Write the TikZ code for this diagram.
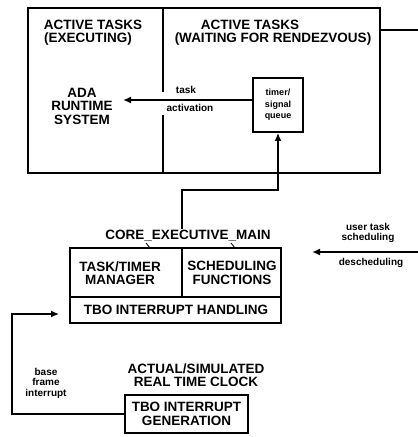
\documentclass[tikz,border=0pt]{standalone}
\usepackage{fontspec}
\setmainfont{Liberation Sans}
\usetikzlibrary{arrows.meta}
\begin{document}
\begin{tikzpicture}[x=1pt,y=-1pt,line width=1.8pt,
  arr/.style={-{Latex[length=8pt,width=7pt]}},
  box/.style={draw,inner sep=0pt},
  big/.style={font=\bfseries\fontsize{13.5}{13.5}\selectfont,align=center,inner sep=1pt},
  small/.style={font=\bfseries\fontsize{10}{10.5}\selectfont,align=center,inner sep=1pt},
  tiny/.style={font=\bfseries\fontsize{9}{11.5}\selectfont,align=center,inner sep=0pt}]
\useasboundingbox (0,0) rectangle (418,437);
% top box
\node[box,minimum width=352pt,minimum height=165pt] (top) at (204,90.5) {};
\coordinate (dT) at (163,8);
\coordinate (dG1) at (163,92);
\coordinate (dG2) at (163,115);
\coordinate (dB) at (163,173);
\draw (dT) -- (dG1);
\draw (dG2) -- (dB);
\node[big] (exe1) at (93,25) {ACTIVE TASKS};
\node[big] (exe2) at (88,39) {(EXECUTING)};
\node[big] (wait1) at (250,25) {ACTIVE TASKS};
\node[big] (wait2) at (273,39) {(WAITING FOR RENDEZVOUS)};
\node[big] (ada) at (82,106) {ADA\\RUNTIME\\SYSTEM};
\node[box,minimum width=50pt,minimum height=54pt] (q) at (278,105) {};
\node[tiny] (qt) at (q.center) {timer/\\signal\\queue};
\coordinate (adaIn) at (123,100);
\draw[arr] (q.west |- adaIn) -- (adaIn);
\node[small] (task) at (186,90) {task};
\node[small] (act) at (190,108) {activation};
\coordinate (rOut) at (418,30);
\draw (top.east |- rOut) -- (rOut);
% core box
\node[box,minimum width=211pt,minimum height=75pt] (core) at (175.5,285.5) {};
\coordinate (hL) at (70,297);
\coordinate (vD) at (182,297);
\draw (hL) -- (core.east |- hL);
\draw (vD) -- (vD |- core.north);
\node[big] (corel) at (188,236) {CORE\_EXECUTIVE\_MAIN};
\draw[line width=0.8pt] (146,243) -- (150,248);
\draw[line width=0.8pt] (231,243) -- (235,248);
\node[big] (ttm) at (120,273) {TASK/TIMER\\MANAGER};
\node[big] (sch) at (232,273) {SCHEDULING\\FUNCTIONS};
\node[big] (tbo) at (176,310) {TBO INTERRUPT HANDLING};
% connector from core label to queue
\coordinate (j) at (182,190);
\draw[arr] (j |- corel.north) -- (j) -| (q.south);
% user task scheduling
\coordinate (uIn) at (418,252);
\coordinate (uTip) at (312,252);
\draw[arr] (uIn) -- (uTip);
\node[small] (uts) at (368,233) {user task\\scheduling};
\node[small] (des) at (371,263) {descheduling};
% clock
\node[big] (clk) at (196,375) {ACTUAL/SIMULATED\\REAL TIME CLOCK};
\node[box,minimum width=123pt,minimum height=38pt] (gen) at (186.5,414) {};
\node[big] (gent) at (gen.center) {TBO INTERRUPT\\GENERATION};
\coordinate (lp) at (12,314);
\draw[arr] (gen.west) -| (lp) -- ([xshift=-10pt]core.west |- lp);
\node[small] (bfi) at (46,383) {base\\frame\\interrupt};
\end{tikzpicture}
\end{document}
